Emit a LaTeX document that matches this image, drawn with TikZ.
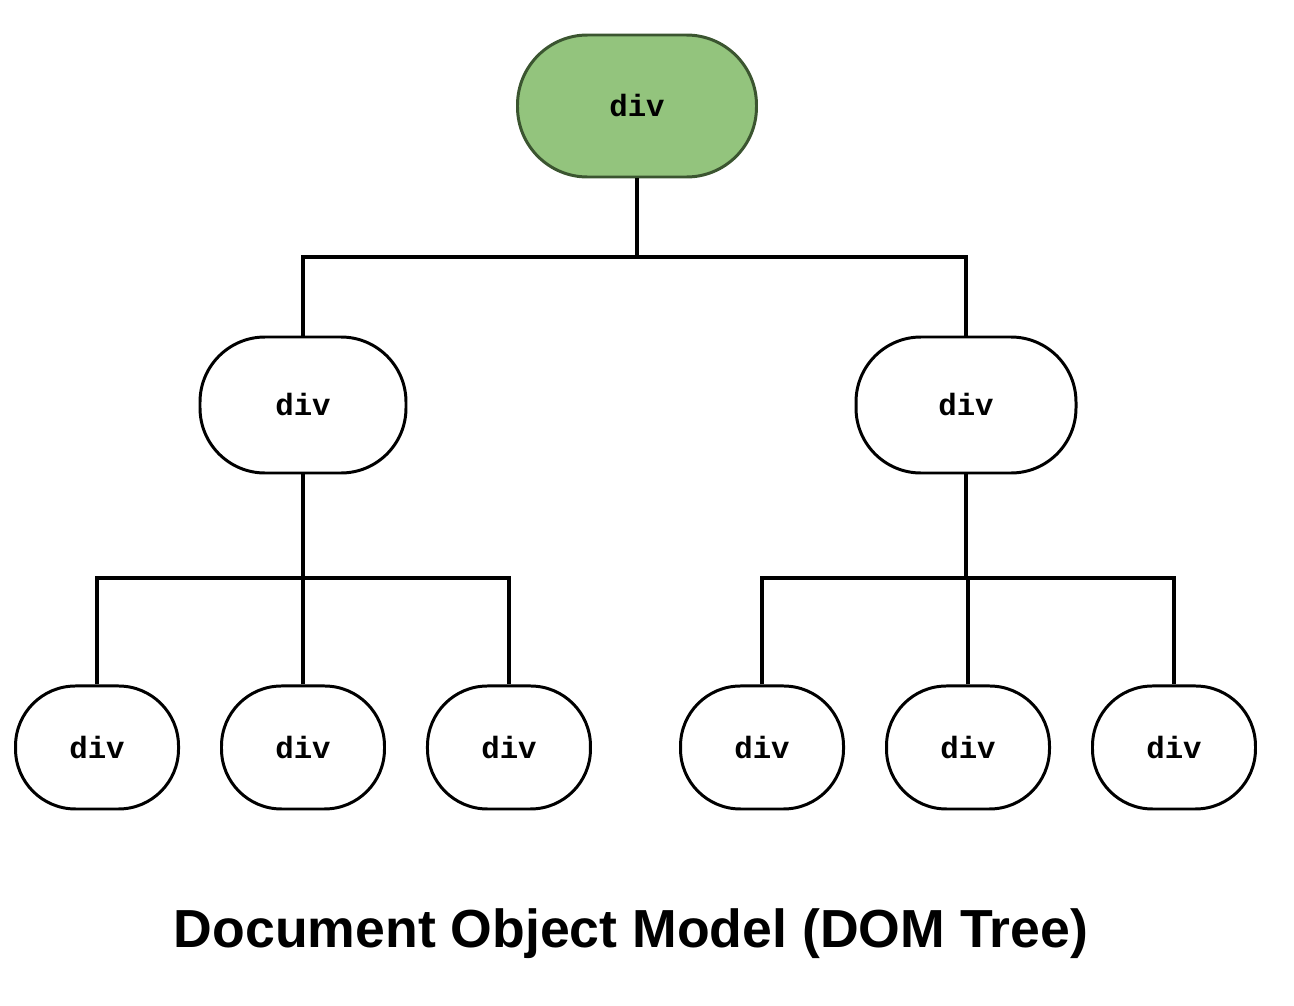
\documentclass[tikz,border=0pt]{standalone}
\usepackage{fontspec}
\setmonofont{Liberation Mono}
\newfontfamily\titlefont{Liberation Sans}
\usepackage{tikz}
\usetikzlibrary{positioning}

\definecolor{rootgreen}{HTML}{93C47D}
\definecolor{rootline}{HTML}{3B5530}

\begin{document}
\begin{tikzpicture}[node distance=4.2cm and 0.80cm,
		divbox/.style={draw, line width=1.7pt, fill=white, font=\ttfamily\bfseries\fontsize{17.5}{20}\selectfont},
		midbox/.style={divbox, minimum height=2.72cm, rounded corners=1.3cm},
		leafbox/.style={divbox, minimum width=3.26cm, minimum height=2.46cm, rounded corners=1.2cm},
		wire/.style={line width=1.8pt}]
		\useasboundingbox (0,0) rectangle (25.88,-20.12);

		\node[divbox, draw=rootline, fill=rootgreen, minimum width=4.78cm, minimum height=2.84cm, rounded corners=1.4cm] (root) at (12.74,-2.12) {div};

		\node[midbox, minimum width=4.12cm] (ml) at (6.06,-8.10) {div};
		\node[midbox, minimum width=4.40cm] (mr) at (19.32,-8.10) {div};

		\node[leafbox, below=of {ml}] (l2) {div};
		\node[leafbox, left=of {l2}] (l1) {div};
		\node[leafbox, right=of {l2}] (l3) {div};

		\node[leafbox, below=of {mr}, xshift=0.04cm] (r2) {div};
		\node[leafbox, left=of {r2}] (r1) {div};
		\node[leafbox, right=of {r2}] (r3) {div};

		\coordinate (j0) at (12.74,-5.14);
		\coordinate (jl) at (6.06,-11.56);
		\coordinate (jr) at (19.32,-11.56);

		\draw[wire] (root) -- (j0);
		\draw[wire] (ml) |- (j0) -| (mr);

		\draw[wire] (ml) -- (jl);
		\draw[wire] (l1) |- (jl) -| (l3);
		\draw[wire] (l2) -- (jl);

		\draw[wire] (mr) -- (jr);
		\draw[wire] (r1) |- (jr) -| (r3);
		\draw[wire] (r2) |- (jr);

		\node[font=\titlefont\bfseries\fontsize{30.5}{36}\selectfont] (title) at (12.62,-18.68) {Document Object Model (DOM Tree)};
	\end{tikzpicture}
\end{document}
